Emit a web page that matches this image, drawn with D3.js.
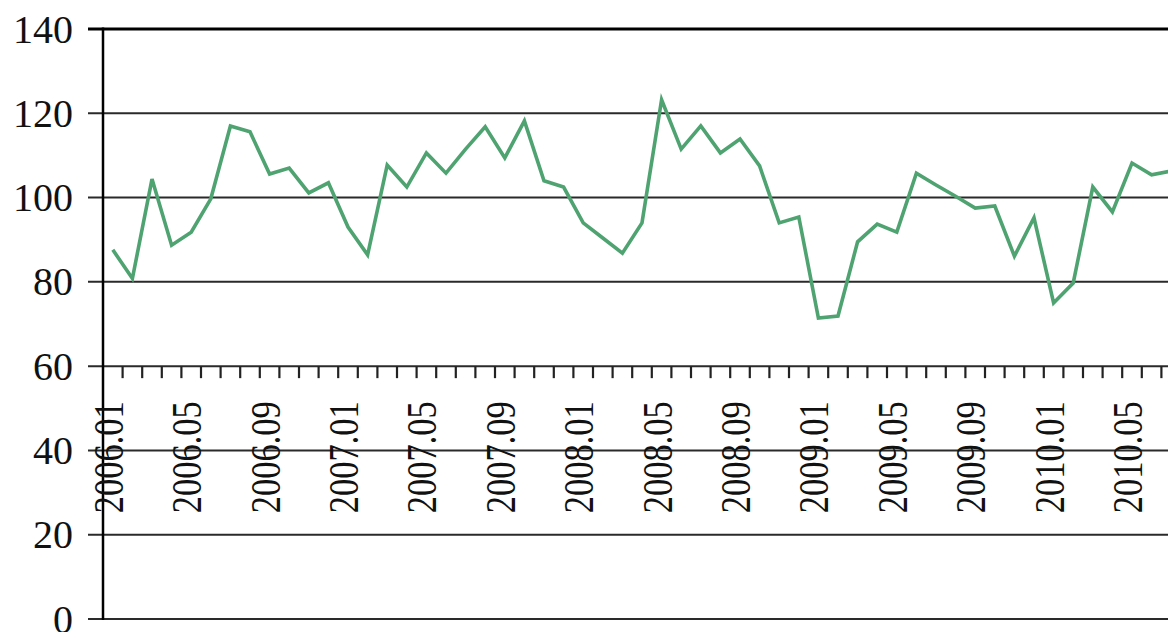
<!DOCTYPE html>
<html>
<head>
<meta charset="utf-8">
<script src="https://cdn.jsdelivr.net/npm/d3@7"></script>
<style>
  html, body { margin: 0; padding: 0; background: #fff; overflow: hidden; }
  svg { display: block; }
</style>
</head>
<body>
<svg id="chart" width="1168" height="632"></svg>
<script>
// ---- data ----
const years = [2006, 2007, 2008, 2009, 2010];
const months = years.flatMap(yr => d3.range(1, 13).map(m => `${yr}.${String(m).padStart(2, "0")}`));
const values = [
  87.6, 80.8, 104.4, 88.7, 91.8, 99.7, 117, 115.6, 105.6, 107, 101.1, 103.5,
  93, 86.4, 107.7, 102.5, 110.6, 105.8, 111.5, 116.8, 109.4, 118.2, 104, 102.5,
  94, 90.4, 86.8, 94, 123.2, 111.5, 117, 110.6, 113.9, 107.5, 94, 95.4,
  71.4, 71.9, 89.5, 93.7, 91.8, 105.8, 103, 100.3, 97.5, 98, 86.1, 95.2,
  75, 79.7, 102.5, 96.6, 108.2, 105.4, 106.3
];
const yTicks = [0, 20, 40, 60, 80, 100, 120, 140];
const labelEvery = 4;
const axisCross = 60;

// ---- layout ----
const W = 1168;
const svg = d3.select("#chart");
const mLeft = 103, mTop = 29, mBottom = 619, step = 19.6;

const x = d3.scaleBand().domain(months).range([mLeft, mLeft + step * months.length]).padding(0);
const y = d3.scaleLinear().domain([0, 140]).range([mBottom, mTop]);

// gridlines + y ticks
svg.append("g").selectAll("line").data(yTicks).join("line")
  .attr("x1", mLeft - 15).attr("x2", W)
  .attr("y1", d => y(d)).attr("y2", d => y(d))
  .attr("stroke", d => d === 140 ? "#000" : "#2a2a2a")
  .attr("stroke-width", d => d === 140 ? 3 : 2);

// y labels
svg.append("g").selectAll("text").data(yTicks).join("text")
  .attr("x", 73).attr("y", d => y(d))
  .attr("dy", "0.34em")
  .attr("text-anchor", "end")
  .attr("font-family", "'Liberation Serif', 'Times New Roman', serif")
  .attr("font-size", 40)
  .attr("fill", "#111")
  .text(d => d);

// y axis line
svg.append("line")
  .attr("x1", mLeft).attr("x2", mLeft).attr("y1", y(140) - 1.5).attr("y2", y(0) + 1)
  .attr("stroke", "#000").attr("stroke-width", 2.5);

// x axis at 60 with month-boundary ticks
const y60 = y(axisCross);
svg.append("g").selectAll("line").data(months.slice(1).filter(d => x(d) <= W)).join("line")
  .attr("x1", d => x(d)).attr("x2", d => x(d))
  .attr("y1", y60).attr("y2", y60 + 12)
  .attr("stroke", "#222").attr("stroke-width", 2.2);

// x labels (rotated), only those within the visible area
const labelMonths = months.filter((d, i) => i % labelEvery === 0 && x(d) + x.bandwidth() / 2 + 12 < W);
svg.append("g").selectAll("text").data(labelMonths).join("text")
  .attr("transform", d => `translate(${x(d) + x.bandwidth() / 2 + 10},${y60 + 147}) rotate(-90) scale(0.86,1.04)`)
  .attr("text-anchor", "start")
  .attr("font-family", "'Liberation Serif', 'Times New Roman', serif")
  .attr("font-size", 40)
  .attr("fill", "#111")
  .text(d => d);

// line
const line = d3.line()
  .x((d, i) => x(months[i]) + x.bandwidth() / 2)
  .y(d => y(d));
svg.append("path")
  .datum(values)
  .attr("d", line)
  .attr("fill", "none")
  .attr("stroke", "#4ea371")
  .attr("stroke-width", 3.6)
  .attr("stroke-linejoin", "miter");
</script>
</body>
</html>
